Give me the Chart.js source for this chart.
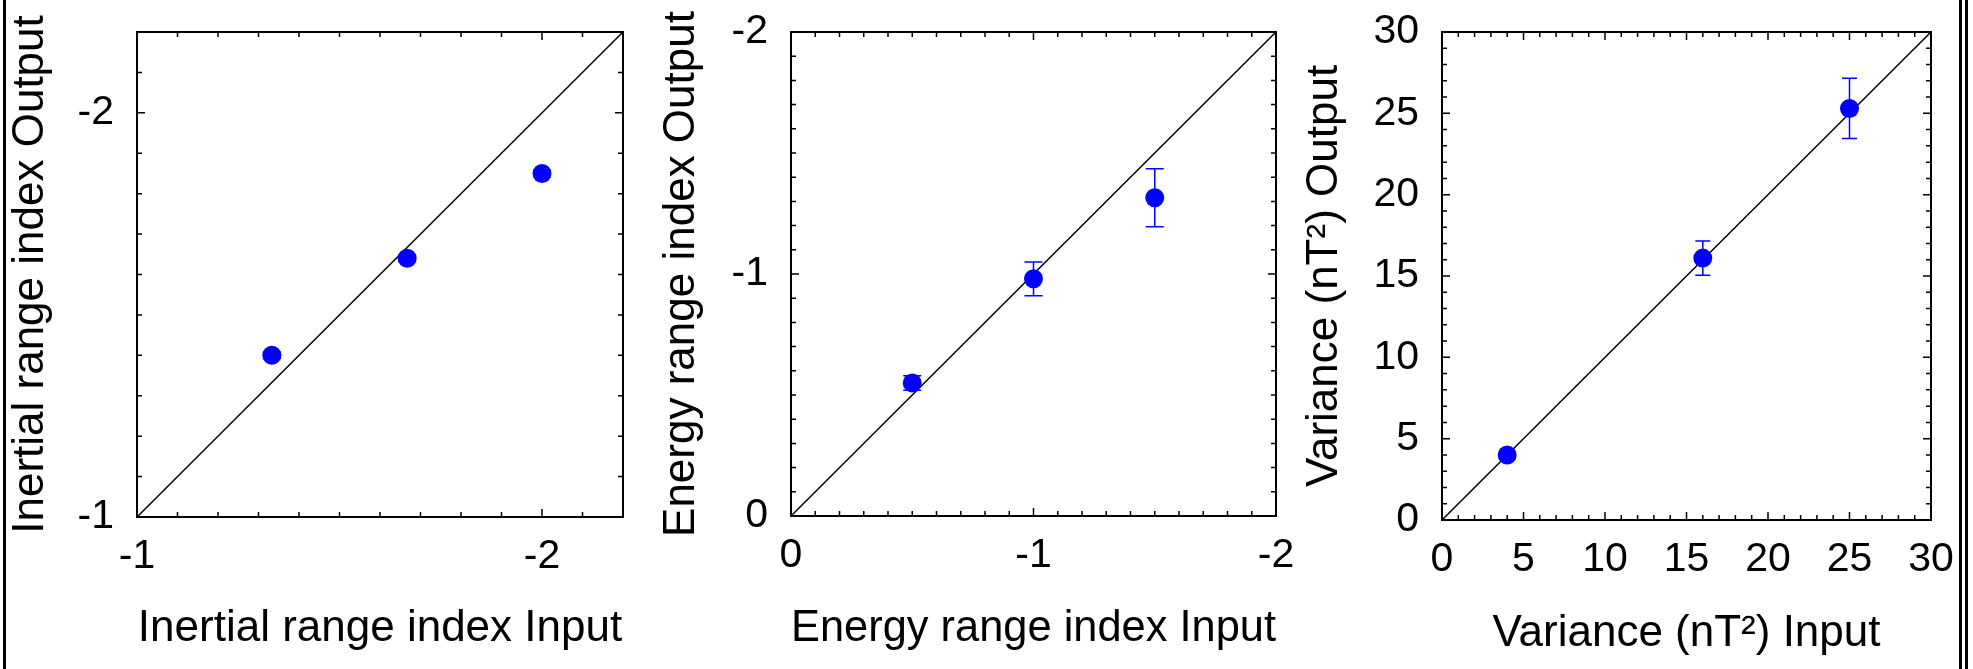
<!DOCTYPE html>
<html>
<head>
<meta charset="utf-8">
<script src="https://cdn.jsdelivr.net/npm/chart.js@4.4.0/dist/chart.umd.min.js"></script>
<style>
  html, body { margin: 0; padding: 0; background: #fff; }
  body { width: 1973px; height: 669px; position: relative; overflow: hidden; }
  canvas { position: absolute; top: 0; }
  .rule { position: absolute; top: 0; width: 3px; height: 669px; background: #000; }
</style>
</head>
<body>
<canvas id="inertial" width="650" height="669" style="left:0"></canvas>
<canvas id="energy" width="650" height="669" style="left:650px"></canvas>
<canvas id="variance" width="673" height="669" style="left:1300px"></canvas>
<div class="rule" style="left:3px"></div>
<div class="rule" style="left:1959px"></div>
<div class="rule" style="left:1965px"></div>
<script>
// values

// left panel: inertial range index
const inertialInput = [-1.333, -1.667, -2.0];
const inertialOutput = [-1.40, -1.64, -1.85];
const inertialError = [0.008, 0.008, 0.008];
const inertialTicks = [-1, -2];

// middle panel: energy range index
const energyInput = [-0.5, -1.0, -1.5];
const energyOutput = [-0.55, -0.98, -1.315];
const energyError = [0.03, 0.07, 0.12];
const energyTicks = [0, -1, -2];

// right panel: variance
const varianceInput = [4, 16, 25];
const varianceOutput = [4.0, 16.1, 25.3];
const varianceError = [0.15, 1.05, 1.85];
const varianceTicks = [0, 5, 10, 15, 20, 25, 30];

const family = "'Liberation Sans', Arial, sans-serif";
const tickFont = { family: family, size: 41 };
const titleFont = { family: family, size: 44, lineHeight: 1 };

Chart.defaults.color = '#000';

// vertical error bars, drawn under the points
const errorBarPlugin = {
  id: 'errorBars',
  beforeDatasetsDraw(chart, args, opts) {
    const { ctx, scales: { x, y } } = chart;
    const pts = chart.data.datasets[0].data;
    ctx.save();
    ctx.strokeStyle = '#0000ff';
    ctx.lineWidth = 1.5;
    ctx.beginPath();
    pts.forEach((p, i) => {
      const err = opts.errors[i];
      const px = x.getPixelForValue(p.x);
      const hi = y.getPixelForValue(p.y + err);
      const lo = y.getPixelForValue(p.y - err);
      ctx.moveTo(px, hi); ctx.lineTo(px, lo);
      ctx.moveTo(px - opts.cap, hi); ctx.lineTo(px + opts.cap, hi);
      ctx.moveTo(px - opts.cap, lo); ctx.lineTo(px + opts.cap, lo);
    });
    ctx.stroke();
    ctx.restore();
  }
};

// box around the plot with inward ticks on all four sides
const framePlugin = {
  id: 'frame',
  afterDraw(chart, args, opts) {
    const { ctx, chartArea: a, scales: { x, y } } = chart;
    ctx.save();
    ctx.strokeStyle = '#000';
    ctx.lineWidth = 1.5;
    ctx.beginPath();
    x.ticks.forEach(t => {
      const px = x.getPixelForValue(t.value);
      const len = t.label ? opts.major : opts.minor;
      ctx.moveTo(px, a.bottom); ctx.lineTo(px, a.bottom - len);
      ctx.moveTo(px, a.top); ctx.lineTo(px, a.top + len);
    });
    y.ticks.forEach(t => {
      const py = y.getPixelForValue(t.value);
      const len = t.label ? opts.major : opts.minor;
      ctx.moveTo(a.left, py); ctx.lineTo(a.left + len, py);
      ctx.moveTo(a.right, py); ctx.lineTo(a.right - len, py);
    });
    ctx.stroke();
    ctx.lineWidth = 2;
    ctx.strokeRect(a.left, a.top, a.right - a.left, a.bottom - a.top);
    ctx.restore();
  }
};

function makePanel(id, opt) {
  const points = opt.input.map((v, i) => ({ x: v, y: opt.output[i] }));
  const diagonal = [{ x: opt.lo, y: opt.lo }, { x: opt.hi, y: opt.hi }];

  // only the listed values get a label, the rest are minor ticks
  const tickLabel = function(value) {
    const hit = opt.ticks.find(t => Math.abs(t - value) < 1e-6);
    return hit === undefined ? '' : String(hit);
  };
  const axisTicks = {
    stepSize: opt.step,
    maxTicksLimit: 100,
    autoSkip: false,
    maxRotation: 0,
    font: tickFont,
    callback: tickLabel
  };

  return new Chart(document.getElementById(id), {
    type: 'scatter',
    data: {
      datasets: [{
        data: points,
        backgroundColor: '#0000ff',
        borderWidth: 0,
        pointRadius: 9.5,
        order: 0
      }, {
        data: diagonal,
        showLine: true,
        borderColor: '#000',
        borderWidth: 1.5,
        pointRadius: 0,
        order: 1
      }]
    },
    options: {
      responsive: false,
      animation: false,
      events: [],
      layout: { padding: { top: 32, right: opt.padRight, left: 0, bottom: 0 } },
      plugins: {
        legend: { display: false },
        tooltip: { enabled: false },
        errorBars: { errors: opt.errors, cap: opt.cap },
        frame: { major: 8, minor: 5 }
      },
      scales: {
        x: {
          type: 'linear',
          min: opt.lo,
          max: opt.hi,
          reverse: opt.reverse,
          grid: { display: false, drawTicks: false },
          border: { display: false },
          ticks: Object.assign({ padding: 15 }, axisTicks),
          title: { display: true, text: opt.xTitle, font: titleFont, padding: { top: 0, bottom: opt.xTitlePad } },
          afterFit: s => {
            // fixed height, and no extra room for label overhang
            s.height = opt.xHeight;
            s.paddingLeft = 0;
            s.paddingRight = 0;
          }
        },
        y: {
          type: 'linear',
          min: opt.lo,
          max: opt.hi,
          reverse: opt.reverse,
          grid: { display: false, drawTicks: false },
          border: { display: false },
          ticks: Object.assign({ padding: 23 }, axisTicks),
          title: { display: true, text: opt.yTitle, font: titleFont, padding: { top: opt.yTitlePad, bottom: 0 } },
          afterFit: s => {
            s.width = opt.yWidth;
            s.paddingTop = 0;
            s.paddingBottom = 0;
          }
        }
      }
    },
    plugins: [errorBarPlugin, framePlugin]
  });
}

makePanel('inertial', {
  input: inertialInput, output: inertialOutput, errors: inertialError, ticks: inertialTicks,
  lo: -2.2, hi: -1, step: 0.1, reverse: true, cap: 9,
  xTitle: 'Inertial range index Input', yTitle: 'Inertial range index Output',
  yWidth: 137, xHeight: 152, padRight: 27, xTitlePad: 18, yTitlePad: 9
});

makePanel('energy', {
  input: energyInput, output: energyOutput, errors: energyError, ticks: energyTicks,
  lo: -2, hi: 0, step: 0.1, reverse: true, cap: 9,
  xTitle: 'Energy range index Input', yTitle: 'Energy range index Output',
  yWidth: 141, xHeight: 153, padRight: 24, xTitlePad: 18, yTitlePad: 10
});

makePanel('variance', {
  input: varianceInput, output: varianceOutput, errors: varianceError, ticks: varianceTicks,
  lo: 0, hi: 30, step: 1, reverse: false, cap: 7.5,
  xTitle: 'Variance (nT²) Input', yTitle: 'Variance (nT²) Output',
  yWidth: 142, xHeight: 149, padRight: 42, xTitlePad: 13, yTitlePad: 3
});
</script>
</body>
</html>
